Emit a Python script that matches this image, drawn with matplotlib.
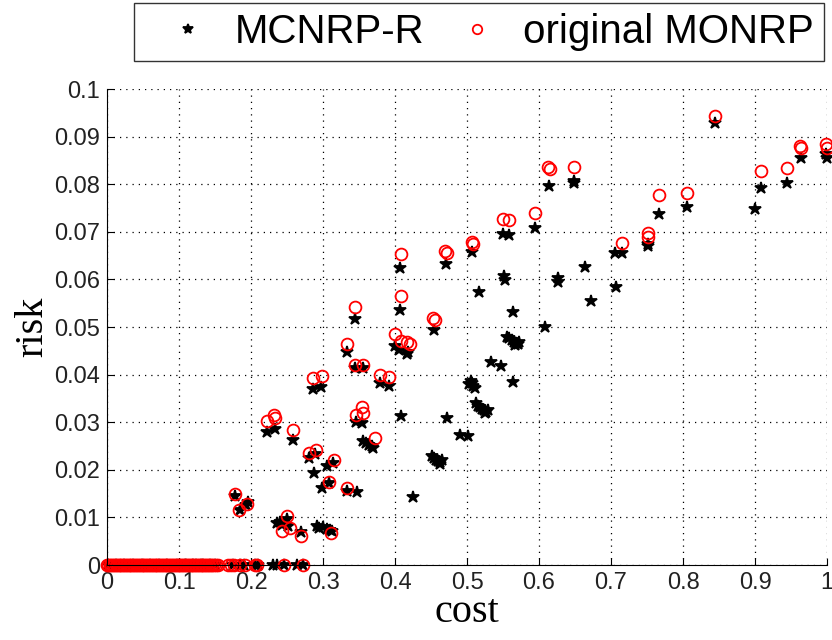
import matplotlib
matplotlib.use('Agg')
import matplotlib.pyplot as plt

# MCNRP-R points (cost, risk) with risk > 0
mcnrp_x = [0.844, 0.767, 0.805, 0.752, 0.752, 0.715, 0.7056, 0.908, 0.900, 0.944, 0.964, 0.998, 1.0,
           0.614, 0.648, 0.648, 0.595, 0.5496, 0.559, 0.5065, 0.471, 0.551, 0.553, 0.627, 0.627, 0.664,
           0.672, 0.707, 0.608, 0.516, 0.5635, 0.533, 0.547, 0.564,
           0.556, 0.559, 0.562, 0.565, 0.568, 0.571, 0.572, 0.566,
           0.503, 0.507, 0.509, 0.511, 0.506,
           0.512, 0.515, 0.518, 0.521, 0.524, 0.527, 0.529, 0.525,
           0.49, 0.502, 0.472, 0.4256,
           0.451, 0.454, 0.457, 0.46, 0.463, 0.465, 0.462,
           0.407, 0.407, 0.345, 0.454, 0.334, 0.400, 0.406, 0.416, 0.418, 0.345, 0.355, 0.379, 0.391,
           0.2866, 0.297, 0.346, 0.354, 0.409,
           0.356, 0.36, 0.364, 0.368, 0.37, 0.258, 0.222, 0.233, 0.2806, 0.289, 0.2875, 0.314, 0.305,
           0.308, 0.299, 0.334, 0.3477, 0.1778, 0.185, 0.193, 0.196,
           0.236, 0.24, 0.2426, 0.2496, 0.252, 0.27, 0.291, 0.295, 0.3, 0.305, 0.31, 0.312]
mcnrp_y = [0.0928, 0.0738, 0.0752, 0.067, 0.0675, 0.0656, 0.0656, 0.0793, 0.0747, 0.0803, 0.0855, 0.0863, 0.0855,
           0.0796, 0.0807, 0.0803, 0.0707, 0.0695, 0.0693, 0.0658, 0.0633, 0.0607, 0.0598, 0.0603, 0.0595, 0.0626,
           0.0555, 0.0583, 0.05, 0.0573, 0.0531, 0.0427, 0.0419, 0.0385,
           0.048, 0.0476, 0.0472, 0.0469, 0.0466, 0.0464, 0.0469, 0.0462,
           0.038, 0.0383, 0.0376, 0.0372, 0.0386,
           0.034, 0.0335, 0.0331, 0.0328, 0.0325, 0.0322, 0.0326, 0.0319,
           0.0274, 0.027, 0.0308, 0.0142,
           0.0228, 0.0224, 0.0221, 0.0218, 0.0216, 0.022, 0.0213,
           0.0625, 0.0535, 0.0517, 0.0494, 0.0447, 0.046, 0.0451, 0.0444, 0.0448, 0.0414, 0.0414, 0.0383, 0.0377,
           0.037, 0.0374, 0.03, 0.0298, 0.0313,
           0.026, 0.0257, 0.0253, 0.025, 0.0246, 0.0262, 0.028, 0.0286, 0.0225, 0.0233, 0.0194, 0.0214, 0.0207,
           0.0172, 0.0161, 0.0155, 0.0154, 0.0144, 0.0116, 0.0127, 0.0132,
           0.0088, 0.009, 0.0083, 0.0097, 0.0082, 0.007, 0.0081, 0.0077, 0.008, 0.0075, 0.0073, 0.0071]
# MCNRP-R points lying on risk = 0
mcnrp_zero_x = [0.002, 0.012, 0.024, 0.036, 0.048, 0.06, 0.072, 0.083, 0.097, 0.108, 0.11, 0.12, 0.124,
                0.131, 0.134, 0.143, 0.15, 0.175, 0.185, 0.19, 0.205, 0.21, 0.231, 0.236, 0.2458,
                0.2634, 0.2718]

# original MONRP points (cost, risk) with risk > 0
monrp_x = [0.844, 0.767, 0.805, 0.752, 0.752, 0.715, 0.908, 0.944, 0.962, 0.964, 0.998, 1.0,
           0.612, 0.615, 0.648, 0.595, 0.5496, 0.559, 0.5065, 0.508, 0.469, 0.472,
           0.408, 0.408, 0.345, 0.453, 0.455, 0.334, 0.400, 0.408, 0.416, 0.421, 0.345, 0.355,
           0.379, 0.391, 0.2866, 0.298, 0.346, 0.354, 0.355, 0.372, 0.259, 0.222, 0.232, 0.233,
           0.2806, 0.29, 0.315, 0.3088, 0.3338, 0.1778, 0.184, 0.194, 0.2505, 0.2435, 0.254, 0.2695, 0.311]
monrp_y = [0.0943, 0.0777, 0.0782, 0.0698, 0.069, 0.0676, 0.0827, 0.0834, 0.0881, 0.0876, 0.0884, 0.0877,
           0.0837, 0.0831, 0.0837, 0.074, 0.0726, 0.0724, 0.0679, 0.0675, 0.066, 0.0655,
           0.0653, 0.0566, 0.0541, 0.0518, 0.0514, 0.0465, 0.0486, 0.047, 0.0468, 0.0465, 0.0421, 0.0421,
           0.0399, 0.0396, 0.0393, 0.0397, 0.0316, 0.0331, 0.032, 0.0267, 0.0284, 0.0302, 0.0316, 0.0309,
           0.0235, 0.0242, 0.0221, 0.0175, 0.0161, 0.0149, 0.0116, 0.0128, 0.0103, 0.0071, 0.0077, 0.006, 0.0067]
# original MONRP points lying on risk = 0
monrp_zero_x = [0.0, 0.002, 0.004, 0.006, 0.008, 0.010, 0.012, 0.014, 0.016, 0.018, 0.020, 0.022, 0.024,
                0.026, 0.028, 0.030, 0.032, 0.034, 0.036, 0.038, 0.040, 0.042, 0.044, 0.046, 0.048, 0.050,
                0.052, 0.054, 0.056, 0.058, 0.060, 0.062, 0.064, 0.066, 0.068, 0.070, 0.072, 0.074, 0.076,
                0.078, 0.080, 0.082, 0.084, 0.086, 0.088, 0.090, 0.092, 0.094, 0.096, 0.098, 0.100, 0.102,
                0.104, 0.106, 0.108, 0.110, 0.112, 0.114, 0.116, 0.118, 0.120, 0.122, 0.124, 0.126, 0.128,
                0.130, 0.132, 0.134, 0.136, 0.138, 0.140, 0.142, 0.144, 0.146, 0.148, 0.151, 0.154,
                0.168, 0.172, 0.176, 0.185, 0.191, 0.2055, 0.209, 0.2458, 0.2718]

x_ticks = [0, 0.1, 0.2, 0.3, 0.4, 0.5, 0.6, 0.7, 0.8, 0.9, 1]
x_labels = ['0', '0.1', '0.2', '0.3', '0.4', '0.5', '0.6', '0.7', '0.8', '0.9', '1']
y_ticks = [0, 0.01, 0.02, 0.03, 0.04, 0.05, 0.06, 0.07, 0.08, 0.09, 0.1]
y_labels = ['0', '0.01', '0.02', '0.03', '0.04', '0.05', '0.06', '0.07', '0.08', '0.09', '0.1']

black_x = mcnrp_x + mcnrp_zero_x
black_y = mcnrp_y + [0.0] * len(mcnrp_zero_x)
red_x = monrp_x + monrp_zero_x
red_y = monrp_y + [0.0] * len(monrp_zero_x)

fig = plt.figure(figsize=(8.32, 6.4), dpi=100)
ax = fig.add_axes([107 / 832, 75 / 640, 720 / 832, 476 / 640])

ax.plot(black_x, black_y, linestyle='none', marker='*', markersize=9, color='black',
        markeredgewidth=1.3, clip_on=False, label='MCNRP-R')
ax.plot(red_x, red_y, linestyle='none', marker='o', markersize=8.5, markerfacecolor='none',
        markeredgecolor='red', markeredgewidth=1.3, clip_on=False, label='original MONRP')

ax.set_xlim(0, 1)
ax.set_ylim(0, 0.1)
ax.set_xticks(x_ticks)
ax.set_xticklabels(x_labels)
ax.set_yticks(y_ticks)
ax.set_yticklabels(y_labels)
ax.tick_params(direction='in', length=5, labelsize=17, pad=5)
for lab in ax.get_xticklabels() + ax.get_yticklabels():
    lab.set_fontfamily('Liberation Sans')
    lab.set_color('#222222')

ax.spines['top'].set_visible(False)
ax.spines['right'].set_visible(False)
ax.grid(True, color='black', linestyle=(0, (1, 4)), linewidth=0.9)
ax.set_axisbelow(True)

ax.set_xlabel('cost', fontfamily='Liberation Serif', fontsize=29, labelpad=0)
ax.set_ylabel('risk', fontfamily='Liberation Serif', fontsize=29, labelpad=2)

leg = fig.legend(loc='center', bbox_to_anchor=(479 / 832, 608 / 640), ncol=2,
                 fancybox=False, edgecolor='black', borderpad=0.25, handlelength=2.2,
                 handletextpad=0.05, columnspacing=0.2, markerscale=0.8,
                 prop={'family': 'Liberation Sans', 'size': 29})
leg.get_frame().set_linewidth(1.0)

fig.savefig('out.png', dpi=100)
